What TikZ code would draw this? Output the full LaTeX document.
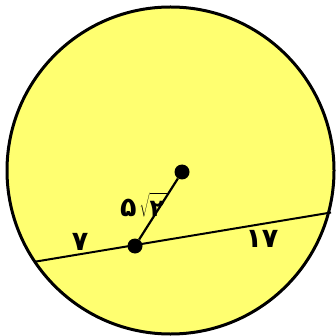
\documentclass[tikz,border=0pt]{standalone}
\usepackage{fontspec}
\newfontfamily\pfont[Script=Arabic]{DejaVu Sans}
\definecolor{circyellow}{RGB}{255,255,112}
\begin{document}
\begin{tikzpicture}[x=1pt,y=-1pt,
  dot/.style={circle,fill=black,inner sep=0pt,minimum size=15pt},
  lbl/.style={font=\pfont\bfseries\fontsize{27}{27}\selectfont,inner sep=0pt}]
\useasboundingbox (0,0) rectangle (335,336);
\fill[white] (0,0) rectangle (335,336);
\draw[line width=3pt,fill=circyellow] (170.5,170.5) circle[radius=163.5];
\coordinate (A) at (35,261.7);
\coordinate (B) at (331,212.5);
\draw[line width=2pt] (A) -- (B);
\node[dot] (O) at (182,172) {};
\node[dot] (P) at (135,246) {};
\draw[line width=2.2pt] (P) -- (O);
\node[lbl] (l7) at (80,242) {۷};
\node[lbl] (l17) at (262,239) {۱۷};
\node[lbl,anchor=base west] (l5) at (120,216) {۵\hspace{3pt}{\fontsize{22}{22}\selectfont$\sqrt{\mbox{\pfont\bfseries\fontsize{24}{24}\selectfont ۲\rule{0pt}{21pt}}\hspace{3pt}}$}};
\end{tikzpicture}
\end{document}
